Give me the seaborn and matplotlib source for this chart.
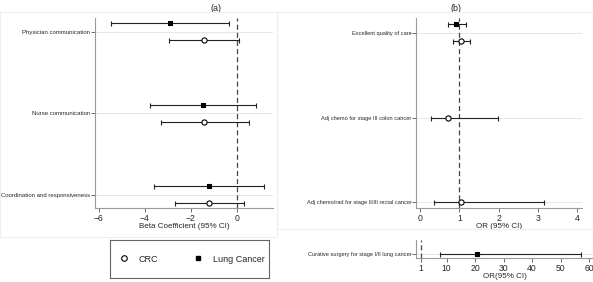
import pandas as pd
import matplotlib.pyplot as plt
import seaborn as sns
from matplotlib.lines import Line2D
from matplotlib.patches import Rectangle

# (a) patient experience measures - beta coefficients
measures_a = ["Physician communication", "Nurse communication", "Coordination and responsiveness"]
lung_a_est = [-2.91, -1.48, -1.22]
lung_a_lo = [-5.48, -3.78, -3.60]
lung_a_hi = [-0.35, 0.83, 1.17]
crc_a_est = [-1.43, -1.43, -1.20]
crc_a_lo = [-2.96, -3.30, -2.70]
crc_a_hi = [0.09, 0.52, 0.30]

# (b) quality of care - odds ratios
measures_b = ["Excellent quality of care", "Adj chemo for stage III colon cancer",
              "Adj chemo/rad for stage II/III rectal cancer"]
crc_b_est = [1.04, 0.71, 1.04]
crc_b_lo = [0.84, 0.28, 0.36]
crc_b_hi = [1.27, 1.98, 3.15]
lung_b_measures = ["Excellent quality of care"]
lung_b_est = [0.92]
lung_b_lo = [0.71]
lung_b_hi = [1.17]

# lung surgery (separate scale)
measures_c = ["Curative surgery for stage I/II lung cancer"]
lung_c_est = [20.6]
lung_c_lo = [7.6]
lung_c_hi = [57.1]

sns.set_style("white")
plt.rcParams["font.family"] = ["Liberation Sans", "DejaVu Sans"]

fig = plt.figure(figsize=(5.93, 2.82), dpi=100)
ax_a = fig.add_axes([0.160, 0.262, 0.300, 0.674])
ax_b = fig.add_axes([0.7015, 0.262, 0.280, 0.674])
ax_c = fig.add_axes([0.7015, 0.085, 0.2985, 0.064])
ax_leg = fig.add_axes([0.1855, 0.014, 0.268, 0.135])

# faint Stata-like panel frames
fig.add_artist(Rectangle((0.0, 1 - 237 / 282), 277 / 593, 225 / 282, transform=fig.transFigure,
                         fill=False, edgecolor="#eeeeee", lw=0.8))
fig.add_artist(Rectangle((277 / 593, 1 - 229 / 282), 316 / 593, 217 / 282, transform=fig.transFigure,
                         fill=False, edgecolor="#eeeeee", lw=0.8))


def make_df(measures, est, lo, hi, group, order):
    df = pd.DataFrame({"measure": measures, "est": est, "lo": lo, "hi": hi})
    df["group"] = group
    df["row"] = [order.index(m) for m in df["measure"]]
    return df


def draw(ax, df, offset, marker, face):
    y = df["row"] + offset
    ax.errorbar(df["est"], y, xerr=[df["est"] - df["lo"], df["hi"] - df["est"]],
                fmt="none", ecolor="#222222", elinewidth=0.8, capsize=1.8, capthick=0.8, zorder=3)
    sns.scatterplot(x=df["est"], y=y, ax=ax, marker=marker, s=14 if marker == "o" else 10,
                    facecolor=face, edgecolor="black", linewidth=0.8, zorder=4, legend=False)


def style(ax, labels, ysize):
    ax.set_yticks(range(len(labels)))
    ax.set_yticklabels(labels, fontsize=ysize)
    ax.tick_params(axis="y", length=3, width=0.6, color="#555555", pad=0.3, left=True)
    ax.tick_params(axis="x", length=3, width=0.6, color="#555555", labelsize=6.2, pad=1, bottom=True)
    for side in ["top", "right"]:
        ax.spines[side].set_visible(False)
    for side in ["left", "bottom"]:
        ax.spines[side].set_color("#999999")
        ax.spines[side].set_linewidth(0.8)
    for i in range(len(labels)):
        ax.axhline(i, color="#e6e6e6", lw=0.7, zorder=0)
    ax.set_ylabel("")


# panel (a)
lung_a = make_df(measures_a, lung_a_est, lung_a_lo, lung_a_hi, "Lung Cancer", measures_a)
crc_a = make_df(measures_a, crc_a_est, crc_a_lo, crc_a_hi, "CRC", measures_a)
draw(ax_a, lung_a, -0.11, "s", "black")
draw(ax_a, crc_a, 0.10, "o", "white")
ax_a.axvline(0, color="#444444", lw=0.9, ls=(0, (4, 2.5)), zorder=2)
style(ax_a, measures_a, 4.35)
ax_a.set_xlim(-6.17, 1.57)
ax_a.set_ylim(2.16, -0.17)
ax_a.set_xticks([-6, -4, -2, 0])
ax_a.set_xlabel("Beta Coefficient (95% CI)", fontsize=5.8, labelpad=0.5)
ax_a.set_title("(a)", fontsize=6.5, pad=5, x=0.68)

# panel (b)
crc_b = make_df(measures_b, crc_b_est, crc_b_lo, crc_b_hi, "CRC", measures_b)
lung_b = make_df(lung_b_measures, lung_b_est, lung_b_lo, lung_b_hi, "Lung Cancer", measures_b)
crc_b.loc[crc_b["measure"].isin(lung_b_measures), "row"] = crc_b["row"] + 0.095
draw(ax_b, lung_b, -0.11, "s", "black")
draw(ax_b, crc_b, 0.0, "o", "white")
ax_b.axvline(1, color="#444444", lw=0.9, ls=(0, (4, 2.5)), zorder=2)
style(ax_b, measures_b, 4.1)
ax_b.set_xlim(-0.1, 4.12)
ax_b.set_ylim(2.07, -0.18)
ax_b.set_xticks([0, 1, 2, 3, 4])
ax_b.set_xlabel("OR (95% CI)", fontsize=5.8, labelpad=0.5)
ax_b.set_title("(b)", fontsize=6.5, pad=5, x=0.24)

# lung surgery
lung_c = make_df(measures_c, lung_c_est, lung_c_lo, lung_c_hi, "Lung Cancer", measures_c)
draw(ax_c, lung_c, 0.0, "s", "black")
ax_c.axvline(1, color="#444444", lw=0.9, ls=(0, (4, 2.5)), zorder=2)
style(ax_c, measures_c, 4.1)
ax_c.set_xlim(-0.75, 61.4)
ax_c.set_ylim(0.2, -0.7)
ax_c.set_xticks([1, 10, 20, 30, 40, 50, 60])
ax_c.set_xlabel("OR(95% CI)", fontsize=5.8, labelpad=0)

# legend box
ax_leg.set_xticks([])
ax_leg.set_yticks([])
for sp in ax_leg.spines.values():
    sp.set_visible(True)
    sp.set_color("#666666")
    sp.set_linewidth(0.8)
handles = [Line2D([], [], ls="none", marker="o", markersize=4, markerfacecolor="white",
                  markeredgecolor="black", markeredgewidth=0.8, label="CRC"),
           Line2D([], [], ls="none", marker="s", markersize=3, markerfacecolor="black",
                  markeredgecolor="black", label="Lung Cancer")]
ax_leg.legend(handles=handles, loc="center", ncol=2, frameon=False, fontsize=6.5,
              handletextpad=0.6, columnspacing=3.5)

fig.savefig("out.png", dpi=100)
